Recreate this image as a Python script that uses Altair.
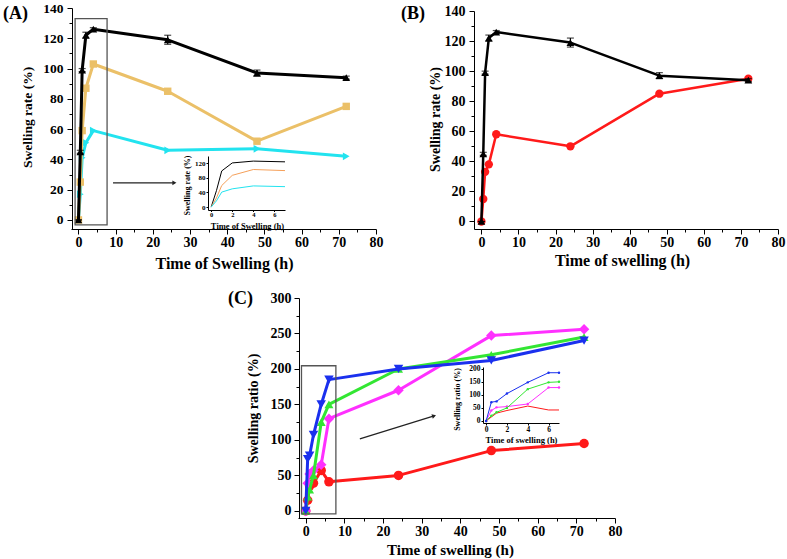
import altair as alt
import pandas as pd

W, H = 787, 559
FONT = "Liberation Serif"

# ---------------- data ----------------
t_main = [0, 0.5, 1, 2, 4, 24, 48, 72]
a_black = [0, 45, 99, 122, 126, 119, 97, 94]
a_black_err = [0, 1, 1, 2, 1, 3, 2, 1]
a_gold = [0, 25, 59, 87, 103, 85, 52, 75]
a_cyan = [0, 17, 41, 51, 59, 46, 47, 42]
b_red = [0, 15, 33, 38, 58, 50, 85, 95]

t_c = [0, 0.5, 1, 2, 4, 6, 24, 48, 72]
c_red = [0, 15, 35, 39, 57, 41, 50, 85, 95]
c_magenta = [0, 39, 52, 57, 65, 130, 170, 247, 256]
c_green = [0, 20, 30, 50, 125, 150, 200, 220, 245]
c_blue = [0, 73, 78, 107, 150, 185, 200, 212, 240]

t_inset_a = [0, 0.5, 1, 2, 4, 7]
ia_black = [0, 45, 99, 121, 126, 124]
ia_orange = [0, 25, 59, 87, 103, 100]
ia_cyan = [0, 17, 41, 50, 58, 56]

t_inset_c = [0, 0.5, 1, 2, 4, 6, 7]
ic_blue = [0, 72, 75, 105, 148, 185, 185]
ic_green = [0, 20, 33, 50, 122, 148, 150]
ic_magenta = [0, 40, 52, 55, 65, 128, 128]
ic_red = [0, 15, 30, 40, 57, 42, 42]

x_major = [0, 10, 20, 30, 40, 50, 60, 70, 80]
x_minor = [5, 15, 25, 35, 45, 55, 65, 75]
y_major_ab = [0, 20, 40, 60, 80, 100, 120, 140]
y_minor_ab = [10, 30, 50, 70, 90, 110, 130]
y_major_c = [0, 50, 100, 150, 200, 250, 300]
y_minor_c = [25, 75, 125, 175, 225, 275]

BLACK = "#000000"
GOLD = "#EBC068"
CYAN = "#22E3EF"
RED = "#FF1A1A"
MAGENTA = "#FF30FF"
GREEN = "#33E633"
BLUE = "#1A30EE"
ORANGE = "#F5A05A"


def sc(d, r):
    return alt.Scale(domain=d, range=r, nice=False, zero=False)


def x_axis(ax_y, values, title=None, title_xy=None, fs=14, tfs=15, tick=5, pad=1,
           labels=True, domain=True):
    kw = dict(orient="bottom", offset=ax_y - H, values=values, grid=False,
              labels=labels, domain=domain, labelFont=FONT, labelFontWeight="bold",
              labelFontSize=fs, labelColor="black", labelPadding=pad, labelFlush=False,
              labelOverlap=False, format="d", domainColor="black", domainWidth=1,
              tickColor="black", tickWidth=1, tickSize=tick)
    if title:
        kw.update(title=title, titleFont=FONT, titleFontWeight="bold", titleFontSize=tfs,
                  titleColor="black", titleX=title_xy[0], titleY=title_xy[1] - ax_y,
                  titleAlign="center", titleBaseline="middle", titleAngle=0)
    else:
        kw.update(title=None)
    return alt.Axis(**kw)


def y_axis(ax_x, values, title=None, title_xy=None, fs=14, tfs=14, tick=5, pad=4,
           labels=True, domain=True):
    kw = dict(orient="left", offset=-ax_x, values=values, grid=False,
              labels=labels, domain=domain, labelFont=FONT, labelFontWeight="bold",
              labelFontSize=fs, labelColor="black", labelPadding=pad, labelFlush=False,
              labelOverlap=False, format="d", domainColor="black", domainWidth=1,
              tickColor="black", tickWidth=1, tickSize=tick)
    if title:
        kw.update(title=title, titleFont=FONT, titleFontWeight="bold", titleFontSize=tfs,
                  titleColor="black", titleX=title_xy[0] - ax_x, titleY=title_xy[1],
                  titleAlign="center", titleBaseline="middle", titleAngle=270)
    else:
        kw.update(title=None)
    return alt.Axis(**kw)


def axes_layer(xs, ys, ax, ay, t, v):
    df = pd.DataFrame({"t": t, "v": v})
    return alt.Chart(df).mark_point(opacity=0).encode(
        x=alt.X("t:Q", scale=xs, axis=ax),
        y=alt.Y("v:Q", scale=ys, axis=ay),
    )


def series(t, v, color, shape, size, lw, xs, ys):
    df = pd.DataFrame({"t": t, "v": v})
    base = alt.Chart(df).encode(
        x=alt.X("t:Q", scale=xs, axis=None),
        y=alt.Y("v:Q", scale=ys, axis=None),
    )
    out = [base.mark_line(color=color, strokeWidth=lw, strokeJoin="round")]
    if shape:
        out.append(base.mark_point(shape=shape, filled=True, color=color, size=size,
                                   opacity=1, strokeWidth=0))
    return out


def errbars(t, v, e, xs, ys, color=BLACK):
    df = pd.DataFrame({"t": t, "lo": [a - b for a, b in zip(v, e)],
                       "hi": [a + b for a, b in zip(v, e)]})
    rule = alt.Chart(df).mark_rule(color=color, strokeWidth=1.2).encode(
        x=alt.X("t:Q", scale=xs, axis=None), y=alt.Y("lo:Q", scale=ys, axis=None),
        y2="hi:Q")
    caps = []
    for f in ["lo", "hi"]:
        caps.append(alt.Chart(df).mark_tick(color=color, orient="horizontal", size=7,
                                            thickness=1.2).encode(
            x=alt.X("t:Q", scale=xs, axis=None), y=alt.Y(f + ":Q", scale=ys, axis=None)))
    return [rule] + caps


def box(x0, x1, y0, y1, xs, ys):
    df = pd.DataFrame({"x0": [x0], "x1": [x1], "y0": [y0], "y1": [y1]})
    return alt.Chart(df).mark_rect(filled=False, stroke="#555555", strokeWidth=1.3,
                                   fill=None).encode(
        x=alt.X("x0:Q", scale=xs, axis=None), x2="x1:Q",
        y=alt.Y("y0:Q", scale=ys, axis=None), y2="y1:Q")


def arrow(x0, y0, x1, y1, angle, xs, ys):
    df = pd.DataFrame({"x0": [x0], "x1": [x1], "y0": [y0], "y1": [y1]})
    line = alt.Chart(df).mark_rule(color="#222222", strokeWidth=1.2).encode(
        x=alt.X("x0:Q", scale=xs, axis=None), x2="x1:Q",
        y=alt.Y("y0:Q", scale=ys, axis=None), y2="y1:Q")
    head = alt.Chart(df).mark_point(shape="triangle-right", filled=True, color="#222222",
                                    size=22, angle=angle, opacity=1).encode(
        x=alt.X("x1:Q", scale=xs, axis=None), y=alt.Y("y1:Q", scale=ys, axis=None))
    return [line, head]


def minor_ticks(xs, ys, ax_y, ax_x, xvals, yvals, t, v):
    return axes_layer(xs, ys,
                      x_axis(ax_y, xvals, tick=3, labels=False, domain=False),
                      y_axis(ax_x, yvals, tick=3, labels=False, domain=False), t, v)


def label(txt, px, py, size=18):
    return alt.Chart(pd.DataFrame({"s": [txt]})).mark_text(
        font=FONT, fontWeight="bold", fontSize=size, align="left", baseline="middle",
        color="black").encode(text="s:N", x=alt.value(px), y=alt.value(py))


layers = []

# ---------------- panel A ----------------
xsA = sc([-2, 80], [71, 376])
ysA = sc([-6, 140], [229, 8])
layers.append(axes_layer(xsA, ysA,
                         x_axis(229, x_major, "Time of Swelling (h)", (224, 263), tfs=16),
                         y_axis(72, y_major_ab, "Swelling rate (%)", (27, 117),
                                fs=13.5, tfs=13.5),
                         t_main, a_black))
layers.append(minor_ticks(xsA, ysA, 229, 72, x_minor, y_minor_ab, t_main, a_black))
layers += series(t_main, a_cyan, CYAN, "triangle-right", 60, 3, xsA, ysA)
layers += series(t_main, a_gold, GOLD, "square", 55, 3, xsA, ysA)
layers += series(t_main, a_black, BLACK, "triangle-up", 60, 3, xsA, ysA)
layers += errbars(t_main, a_black, a_black_err, xsA, ysA)
layers.append(box(-0.9, 7.7, -3.3, 133, xsA, ysA))
layers += arrow(9.3, 24.5, 25.8, 24.5, 0, xsA, ysA)

# inset A
xsIA = sc([-0.3, 7], [208, 285])
ysIA = sc([-8, 140], [210, 156])
layers.append(axes_layer(xsIA, ysIA,
                         x_axis(210, [0, 2, 4, 6], "Time of Swelling (h)", (247, 225),
                                fs=6.5, tfs=8.5, tick=1.5, pad=0),
                         y_axis(208, [0, 40, 80, 120], "Swelling rate (%)", (187, 185),
                                fs=7, tfs=8, tick=2, pad=1),
                         t_inset_a, ia_black))
layers += series(t_inset_a, ia_black, BLACK, None, 0, 1, xsIA, ysIA)
layers += series(t_inset_a, ia_orange, ORANGE, None, 0, 1, xsIA, ysIA)
layers += series(t_inset_a, ia_cyan, CYAN, None, 0, 1, xsIA, ysIA)

# ---------------- panel B ----------------
xsB = sc([-2, 80], [474, 778])
ysB = sc([-5, 140], [229, 11])
layers.append(axes_layer(xsB, ysB,
                         x_axis(229, x_major, "Time of swelling (h)", (622, 260), tfs=16),
                         y_axis(474, y_major_ab, "Swelling rate (%)", (435, 119)),
                         t_main, a_black))
layers.append(minor_ticks(xsB, ysB, 229, 474, x_minor, y_minor_ab, t_main, a_black))
layers += series(t_main, b_red, RED, "circle", 70, 2.5, xsB, ysB)
layers += series(t_main, a_black, BLACK, "triangle-up", 60, 2.5, xsB, ysB)
layers += errbars(t_main, a_black, a_black_err, xsB, ysB)

# ---------------- panel C ----------------
xsC = sc([-2, 80], [298, 615])
ysC = sc([-10, 300], [518, 298])
layers.append(axes_layer(xsC, ysC,
                         x_axis(518, x_major, "Time of swelling (h)", (450, 549)),
                         y_axis(299, y_major_c, "Swelling ratio (%)", (253, 408), pad=3),
                         t_c, c_red))
layers.append(minor_ticks(xsC, ysC, 518, 299, x_minor, y_minor_c, t_c, c_red))
layers += series(t_c, c_red, RED, "circle", 90, 3, xsC, ysC)
layers += series(t_c, c_magenta, MAGENTA, "diamond", 110, 3, xsC, ysC)
layers += series(t_c, c_green, GREEN, "triangle-up", 80, 3, xsC, ysC)
layers += series(t_c, c_blue, BLUE, "triangle-down", 90, 3, xsC, ysC)
layers.append(box(-1.1, 7.8, -4.2, 204.5, xsC, ysC))
layers += arrow(14, 101.5, 33.2, 134, 343, xsC, ysC)

# inset C
xsIC = sc([-0.3, 7], [483, 559])
ysIC = sc([-8, 207], [423, 367])
layers.append(axes_layer(xsIC, ysIC,
                         x_axis(423, [0, 2, 4, 6], "Time of swelling (h)", (521, 439.5),
                                fs=7.5, tfs=8.5, tick=2, pad=0),
                         y_axis(483, [0, 50, 100, 150, 200], "Swelling ratio (%)",
                                (457, 399), fs=7.5, tfs=8, tick=2, pad=1),
                         t_inset_c, ic_red))
layers += series(t_inset_c, ic_red, RED, None, 0, 1, xsIC, ysIC)
layers += series(t_inset_c, ic_magenta, MAGENTA, "circle", 6, 1, xsIC, ysIC)
layers += series(t_inset_c, ic_green, GREEN, "circle", 6, 1, xsIC, ysIC)
layers += series(t_inset_c, ic_blue, BLUE, "circle", 6, 1, xsIC, ysIC)

layers += [label("(A)", 3, 14), label("(B)", 401, 14), label("(C)", 228, 299)]

chart = alt.layer(*layers).resolve_scale(x="independent", y="independent").properties(
    width=W, height=H, autosize=alt.AutoSizeParams(type="none"), padding=0,
    background="white",
).configure_view(stroke=None)

chart.save("out.html", embed_options={"renderer": "svg", "actions": False})
